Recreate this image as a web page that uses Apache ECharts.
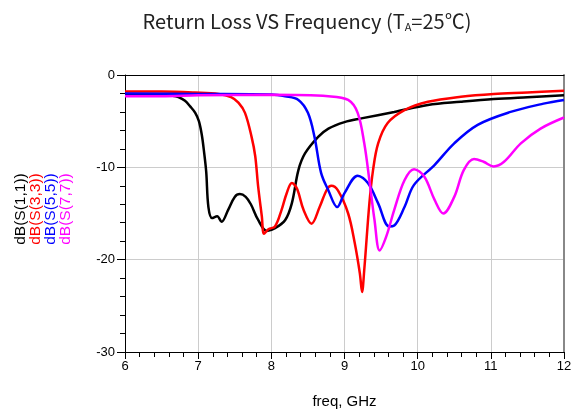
<!DOCTYPE html>
<html>
<head>
<meta charset="utf-8">
<script src="https://cdn.jsdelivr.net/npm/echarts@6/dist/echarts.min.js"></script>
<style>
  html, body { margin: 0; padding: 0; background: #fff; }
  #chart { width: 579px; height: 414px; }
</style>
</head>
<body>
<div id="chart"></div>
<script>
// values (freq in GHz, return loss in dB)
const s11Freq = [6.0, 6.3, 6.5, 6.65, 6.73, 6.82, 6.89, 6.96, 7.01, 7.05, 7.08, 7.11, 7.14, 7.19, 7.26, 7.32, 7.41, 7.5, 7.57, 7.65, 7.72, 7.82, 7.94, 8.05, 8.19, 8.28, 8.37, 8.46, 8.64, 8.78, 9.0, 9.23, 9.68, 10.14, 10.59, 11.04, 11.5, 12.0];
const s11Db = [-2.2, -2.2, -2.2, -2.25, -2.4, -2.8, -3.4, -4.1, -5.0, -6.5, -8.3, -10.5, -14.3, -15.5, -15.3, -15.9, -14.6, -13.2, -12.9, -13.2, -14.0, -15.7, -16.9, -16.6, -15.7, -13.9, -10.3, -8.5, -6.7, -5.8, -5.1, -4.7, -4.0, -3.25, -2.9, -2.6, -2.4, -2.2];

const s33Freq = [6.0, 6.5, 6.96, 7.28, 7.45, 7.55, 7.64, 7.73, 7.78, 7.82, 7.87, 7.9, 7.96, 8.05, 8.14, 8.21, 8.28, 8.35, 8.44, 8.55, 8.66, 8.76, 8.82, 8.91, 9.05, 9.14, 9.21, 9.24, 9.27, 9.34, 9.39, 9.46, 9.59, 9.82, 10.14, 10.59, 11.04, 11.5, 12.0];
const s33Db = [-1.8, -1.8, -1.9, -2.05, -2.4, -3.0, -4.1, -6.7, -8.8, -12.1, -15.3, -17.2, -16.7, -16.4, -14.6, -12.8, -11.7, -12.3, -14.6, -16.1, -14.3, -12.4, -12.0, -12.5, -15.0, -18.2, -21.5, -23.5, -21.1, -13.9, -10.3, -7.4, -5.2, -3.8, -2.9, -2.35, -2.05, -1.9, -1.7];

const s55Freq = [6.0, 7.0, 8.0, 8.19, 8.37, 8.5, 8.59, 8.68, 8.78, 8.9, 9.0, 9.18, 9.32, 9.46, 9.61, 9.68, 9.82, 9.95, 10.23, 10.5, 10.82, 11.27, 11.72, 12.0];
const s55Db = [-2.0, -2.05, -2.1, -2.3, -2.7, -4.1, -6.7, -10.6, -12.5, -14.3, -12.8, -10.9, -11.7, -13.9, -16.4, -16.3, -14.3, -11.9, -9.75, -7.4, -5.4, -4.0, -3.1, -2.7];

const s77Freq = [6.0, 6.5, 7.0, 8.0, 8.78, 9.05, 9.18, 9.27, 9.34, 9.41, 9.48, 9.57, 9.68, 9.82, 9.95, 10.09, 10.23, 10.35, 10.5, 10.63, 10.77, 10.9, 11.04, 11.18, 11.41, 11.68, 12.0];
const s77Db = [-2.3, -2.3, -2.2, -2.15, -2.3, -2.7, -4.1, -7.4, -11.4, -15.7, -19.0, -17.5, -14.6, -11.4, -10.2, -11.0, -13.5, -15.0, -13.2, -10.3, -9.1, -9.4, -9.9, -9.4, -7.4, -5.8, -4.6];

const seriesNames = ['dB(S(1,1))', 'dB(S(3,3))', 'dB(S(5,5))', 'dB(S(7,7))'];
const seriesColors = ['#000000', '#ff0000', '#0000ff', '#ff00ff'];
const xTicks = [6, 7, 8, 9, 10, 11, 12];
const yTicks = [0, -10, -20, -30];

const pairs = (xs, ys) => xs.map((x, i) => [x, ys[i]]);
const allData = [pairs(s11Freq, s11Db), pairs(s33Freq, s33Db), pairs(s55Freq, s55Db), pairs(s77Freq, s77Db)];

const chart = echarts.init(document.getElementById('chart'), null, { renderer: 'canvas' });

const labelFont = { color: '#000', fontSize: 13, fontFamily: '"Liberation Sans", Arial, sans-serif' };

const option = {
  animation: false,
  title: {
    text: 'Return Loss VS Frequency (T{sub|A}=25℃)',
    left: 302,
    top: 6,
    textAlign: 'center',
    textStyle: {
      color: '#222',
      fontSize: 20,
      fontWeight: 'normal',
      fontFamily: '"Noto Sans CJK SC", sans-serif',
      rich: {
        sub: { fontSize: 11, color: '#222', fontFamily: '"Noto Sans CJK SC", sans-serif', padding: [10, 0, 0, 0] }
      }
    }
  },
  grid: { left: 125, right: 15, top: 75, bottom: 61 },
  xAxis: [
    {
      type: 'value',
      min: 6, max: 12, interval: 1,
      name: 'freq, GHz',
      nameLocation: 'middle',
      nameGap: 42,
      nameTextStyle: { color: '#000', fontSize: 15, fontFamily: '"Liberation Sans", Arial, sans-serif' },
      axisLine: { onZero: false, lineStyle: { color: '#000', width: 1 } },
      axisTick: { show: true, length: 7, lineStyle: { color: '#000' } },
      minorTick: { show: true, splitNumber: 5, length: 5, lineStyle: { color: '#000' } },
      axisLabel: Object.assign({ margin: 8, formatter: v => xTicks.includes(v) ? String(v) : '' }, labelFont),
      splitLine: { show: true, lineStyle: { color: '#cccccc', width: 1 } }
    },
    {
      type: 'value', position: 'top', min: 6, max: 12,
      axisLine: { show: true, onZero: false, lineStyle: { color: '#000', width: 1 } },
      axisTick: { show: false }, axisLabel: { show: false }, splitLine: { show: false }
    }
  ],
  yAxis: [
    {
      type: 'value',
      min: -30, max: 0, interval: 10,
      axisLine: { show: true, onZero: false, lineStyle: { color: '#000', width: 1 } },
      axisTick: { show: true, length: 8, lineStyle: { color: '#000' } },
      minorTick: { show: true, splitNumber: 5, length: 5, lineStyle: { color: '#000' } },
      axisLabel: Object.assign({ margin: 10, formatter: v => yTicks.includes(v) ? String(v) : '' }, labelFont),
      splitLine: { show: true, lineStyle: { color: '#cccccc', width: 1 } }
    },
    {
      type: 'value', position: 'right', min: -30, max: 0,
      axisLine: { show: true, onZero: false, lineStyle: { color: '#888', width: 2 } },
      axisTick: { show: false }, axisLabel: { show: false }, splitLine: { show: false }
    }
  ],
  graphic: seriesNames.map((name, i) => ({
    type: 'text',
    x: 21 + i * 15,
    y: 209,
    rotation: Math.PI / 2,
    style: {
      text: name,
      fill: seriesColors[i],
      fontSize: 15.5,
      fontFamily: '"Liberation Sans", Arial, sans-serif',
      align: 'center',
      verticalAlign: 'middle'
    }
  })),
  series: allData.map((data, i) => ({
    name: seriesNames[i],
    type: 'line',
    data: data,
    smooth: 0.35,
    showSymbol: false,
    lineStyle: { color: seriesColors[i], width: 2.5 },
    clip: false
  }))
};

chart.setOption(option);
</script>
</body>
</html>
